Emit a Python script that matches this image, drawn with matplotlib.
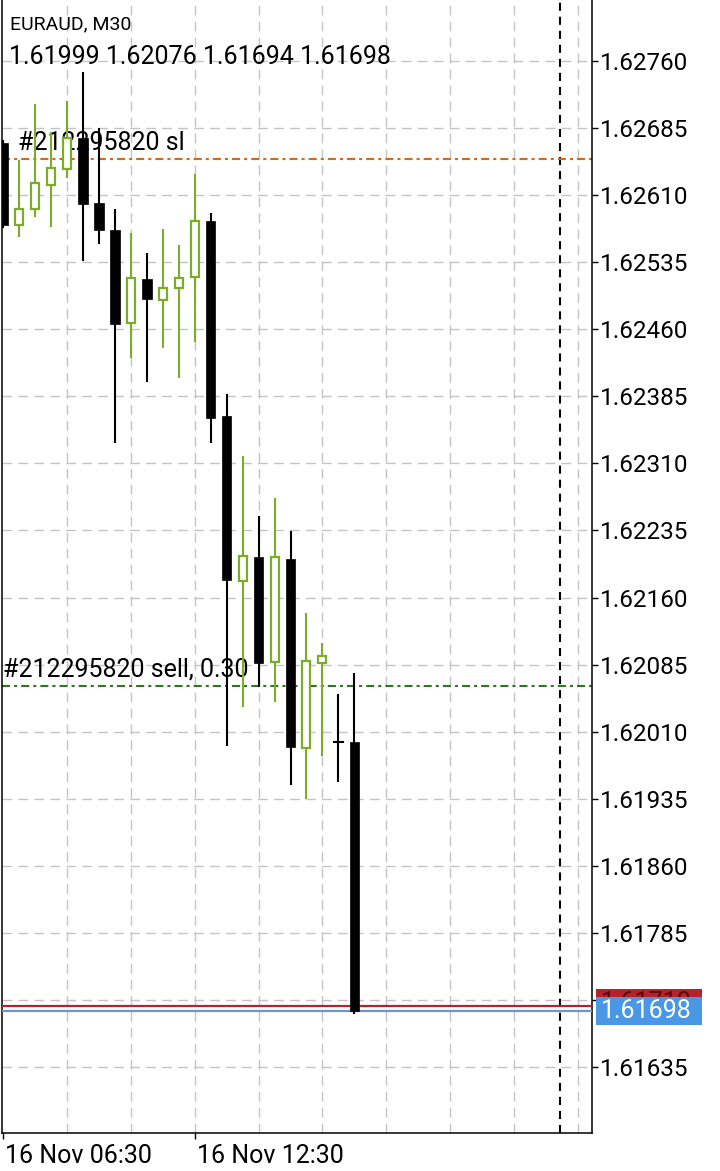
import numpy as np
import matplotlib
matplotlib.use("Agg")
import matplotlib.pyplot as plt
import matplotlib.transforms as mtransforms
from matplotlib.patches import Rectangle

plt.rcParams['font.family'] = ['Roboto', 'DejaVu Sans']
plt.rcParams['lines.scale_dashes'] = False

# EURAUD M30 candles, 06:30 .. 17:30 on 16 Nov
opens = [1.62668, 1.62577, 1.62595, 1.62621, 1.62639, 1.62674, 1.62601, 1.62571,
         1.62467, 1.62516, 1.62493, 1.62506, 1.62518, 1.62581, 1.62363, 1.62179,
         1.62205, 1.62088, 1.62203, 1.61992, 1.62087, 1.61998, 1.61999]
highs = [1.62672, 1.62649, 1.62712, 1.62681, 1.62715, 1.62748, 1.62685, 1.62595,
         1.62568, 1.62545, 1.62572, 1.62554, 1.62634, 1.62590, 1.62388, 1.62318,
         1.62251, 1.62271, 1.62234, 1.62143, 1.62109, 1.62052, 1.62076]
lows = [1.62573, 1.62563, 1.62586, 1.62574, 1.62629, 1.62536, 1.62555, 1.62333,
        1.62428, 1.62401, 1.62439, 1.62406, 1.62446, 1.62333, 1.61994, 1.62038,
        1.62060, 1.62043, 1.61950, 1.61935, 1.61983, 1.61954, 1.61694]
closes = [1.62577, 1.62595, 1.62624, 1.62640, 1.62674, 1.62600, 1.62571, 1.62466,
          1.62517, 1.62494, 1.62506, 1.62517, 1.62581, 1.62361, 1.62180, 1.62206,
          1.62087, 1.62205, 1.61993, 1.62089, 1.62095, 1.61998, 1.61698]

price_ticks = [1.61635, 1.61710, 1.61785, 1.61860, 1.61935, 1.62010, 1.62085,
               1.62160, 1.62235, 1.62310, 1.62385, 1.62460, 1.62535, 1.62610,
               1.62685, 1.62760]
price_labels = ["%.5f" % p for p in price_ticks]
time_ticks = [0, 12]
time_labels = ["16 Nov 06:30", "16 Nov 12:30"]

sl_price = 1.62650
sell_price = 1.62061
bid = 1.61698
ask = 1.61703
ask_label = "1.61710"
separator_x = 34.875

green = '#7bac2c'

fig = plt.figure(figsize=(7.2, 11.71), dpi=100)
ax = fig.add_axes([2 / 720, 38 / 1171, 590 / 720, 1133 / 1171])
ax.set_xlim(-0.0625, 36.875)
ax.set_ylim(1.615612, 1.628282)

# grid
for p in price_ticks:
    ax.axhline(p, color='#c4c4c4', lw=1.0, dashes=(7, 4.5), zorder=0)
for gx in range(4, 37, 4):
    ax.axvline(gx, color='#c4c4c4', lw=1.0, dashes=(7, 4.5), zorder=0)
ax.axvline(separator_x, color='black', lw=1.5, dashes=(5.8, 4.3), zorder=1)

# order lines
dd = (5.8, 2.9, 2.2, 2.9)
ax.axhline(sl_price, color='#d2691e', lw=1.5, dashes=dd, zorder=1)
ax.axhline(sell_price, color='#2a7a1c', lw=1.5, dashes=dd, zorder=1)
ax.annotate("#212295820 sl", xy=(0.95, sl_price), xytext=(0, 3),
            textcoords='offset points', fontsize=18, va='bottom', ha='left',
            zorder=2)
ax.annotate("#212295820 sell, 0.30", xy=(0.0, sell_price), xytext=(0, 3),
            textcoords='offset points', fontsize=18, va='bottom', ha='left',
            zorder=2)

# bid / ask
ax.axhline(ask, color='#b5232a', lw=1.6, zorder=3)
ax.axhline(bid, color='#6a96cc', lw=1.6, zorder=3)

# candles
bw = 0.6
for i, (o, h, l, c) in enumerate(zip(opens, highs, lows, closes)):
    if c > o:
        ax.plot([i, i], [l, h], color=green, lw=1.5, solid_capstyle='butt', zorder=4)
        ax.add_patch(Rectangle((i - bw / 2 + 0.05, o), bw - 0.1, c - o,
                               facecolor='white', edgecolor=green, lw=1.6, zorder=5))
    elif c == o:
        ax.plot([i, i], [l, h], color='black', lw=1.5, solid_capstyle='butt', zorder=4)
        ax.plot([i - bw / 2, i + bw / 2], [o, o], color='black', lw=1.5, zorder=5)
    else:
        ax.plot([i, i], [l, h], color='black', lw=1.5, solid_capstyle='butt', zorder=4)
        ax.add_patch(Rectangle((i - bw / 2, c), bw, o - c,
                               facecolor='black', edgecolor='black', lw=0.5, zorder=5))

# axes styling
ax.spines['top'].set_visible(False)
for s in ['left', 'right', 'bottom']:
    ax.spines[s].set_linewidth(1.1)
ax.yaxis.tick_right()
ax.set_yticks(price_ticks)
ax.set_yticklabels(price_labels)
ax.tick_params(axis='y', length=4.3, width=1, pad=1.5, labelsize=17.5, colors='black')
ax.set_xticks(time_ticks)
ax.set_xticklabels(time_labels, ha='left')
ax.tick_params(axis='x', length=4, width=1, pad=4, labelsize=18)
offset = mtransforms.ScaledTranslation(2 / 100, 0, fig.dpi_scale_trans)
for lbl in ax.get_xticklabels():
    lbl.set_transform(lbl.get_transform() + offset)

# price boxes on the right (ask box mostly hidden behind the bid box)
tr = mtransforms.blended_transform_factory(ax.transAxes, ax.transData)
box_h = 28 / 89422
ax.add_patch(Rectangle((594 / 590, ask - box_h / 2 + 0.00004), 106 / 590, box_h,
                       transform=tr, facecolor='#b5232a', edgecolor='none',
                       clip_on=False, zorder=6))
ax.text(1.0 + 53 / 590 + 0.003, ask + 0.00004, ask_label, transform=tr,
        fontsize=18, color='#5a0a0a', ha='center', va='center', clip_on=False, zorder=7)
ax.add_patch(Rectangle((594 / 590, bid - box_h / 2), 106 / 590, box_h,
                       transform=tr, facecolor='#4a97e6', edgecolor='none',
                       clip_on=False, zorder=8))
ax.text(1.0 + 53 / 590 + 0.003, bid, "%.5f" % bid, transform=tr,
        fontsize=18, color='white', ha='center', va='center', clip_on=False, zorder=9)

# header
fig.text(10 / 720, 1 - 29 / 1171, "EURAUD, M30", fontsize=14, va='baseline')
fig.text(9 / 720, 1 - 64 / 1171, "%.5f %.5f %.5f %.5f" % (opens[-1], highs[-1], lows[-1], closes[-1]),
         fontsize=18, va='baseline')

fig.savefig("out.png", dpi=100, facecolor='white')
